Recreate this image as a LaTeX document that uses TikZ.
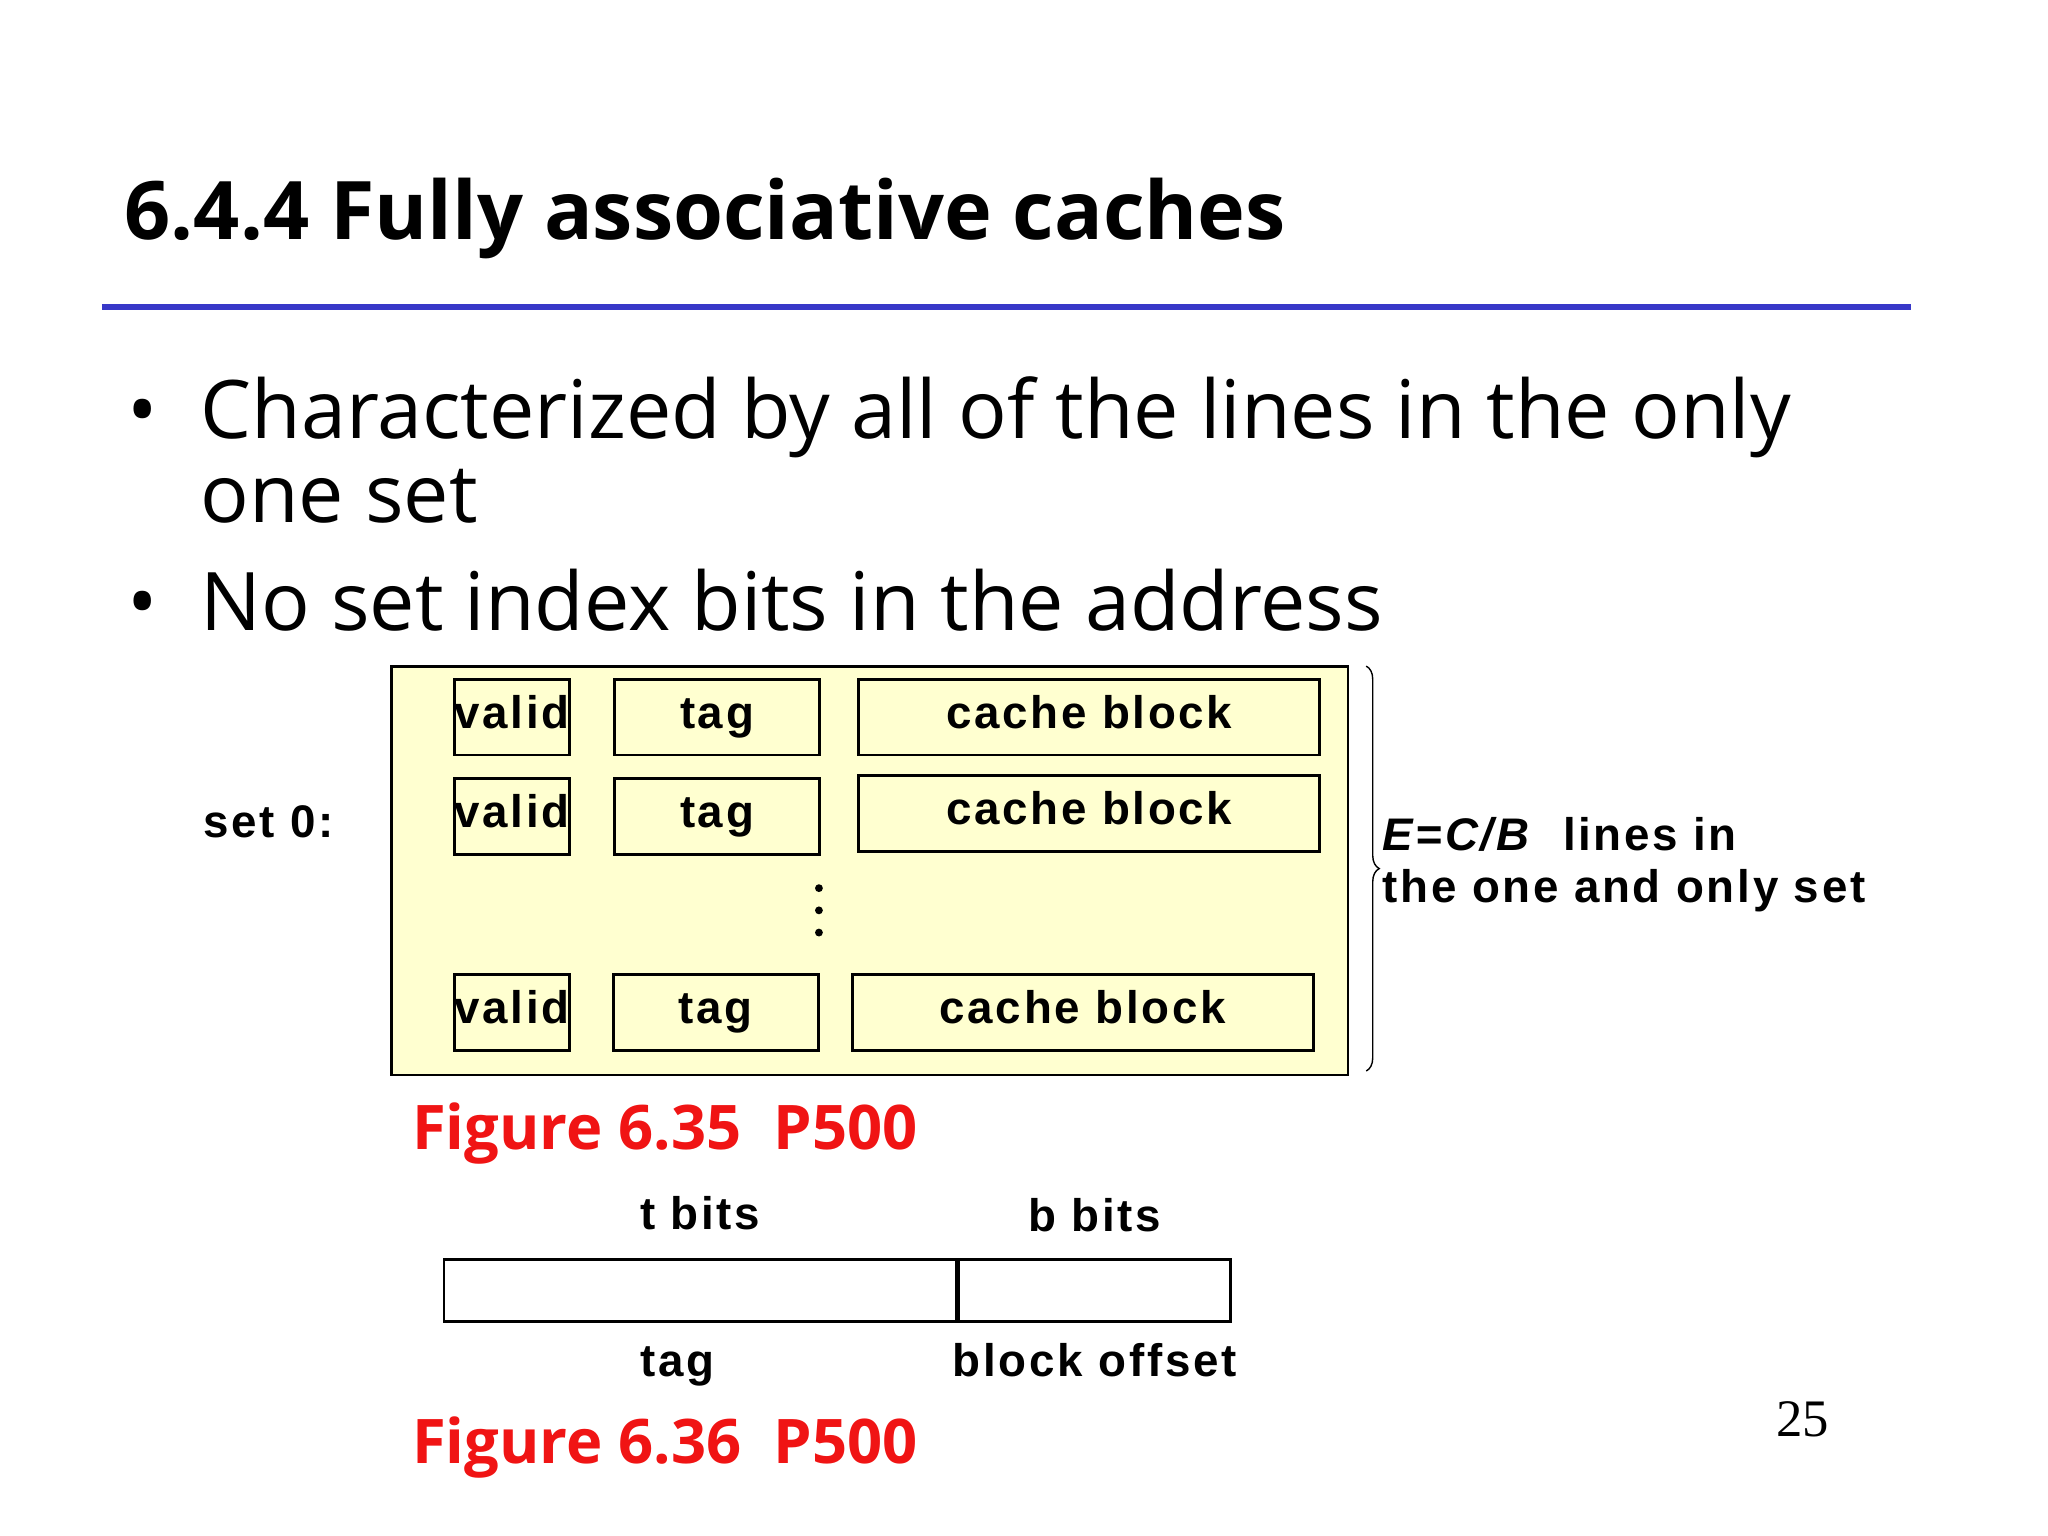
\documentclass[tikz,border=0pt]{standalone}
\usepackage{fontspec}
\setmainfont{Liberation Sans}
\newfontfamily\slidefont{Open Sans}
\newfontfamily\timesfont{Liberation Serif}
\newfontfamily\boxfont[LetterSpace=6]{Liberation Sans}
\usepackage{tikz}
\usetikzlibrary{positioning,decorations.pathreplacing}
\definecolor{slideblue}{RGB}{56,56,200}
\definecolor{boxyellow}{RGB}{255,255,208}
\definecolor{figred}{RGB}{240,20,20}
\newcommand{\px}{0.013061cm}

\begin{document}
\begin{tikzpicture}[
    x=0.013061cm, y=-0.013061cm,
    cell/.style={rectangle, draw, thick, inner sep=0pt, minimum height=58*\px, text height=1.6ex, text depth=0.4ex, font=\boxfont\fontsize{13}{15}\selectfont\bfseries},
    label/.style={inner sep=0pt, text height=1.6ex, text depth=0.4ex, font=\boxfont\fontsize{13}{15}\selectfont\bfseries},
    figlabel/.style={anchor=west, inner sep=0pt, text=figred, font=\slidefont\fontsize{17.5}{21}\selectfont\bfseries},
    bullet/.style={anchor=base west, inner sep=0pt, font=\slidefont\fontsize{23}{28}\selectfont}
]
\useasboundingbox (0,0) rectangle (1568,1176);

% title
\node[anchor=base west, inner sep=0pt, font=\slidefont\fontsize{23}{28}\selectfont\bfseries] (title) at (95,183) {6.4.4 Fully associative caches};
\draw[slideblue, line width=5*\px] (78,235) -- (1463,235);

% bullets
\node[bullet] (dot1) at (97,336) {\textbullet};
\node[bullet] (b1) at (153,336) {Characterized by all of the lines in the only};
\node[bullet] (b1b) at (153,400) {one set};
\node[bullet] (dot2) at (97,483) {\textbullet};
\node[bullet] (b2) at (153,483) {No set index bits in the address};

% the one set
\draw[thick, fill=boxyellow] (300,510) rectangle (1032,823);
\node[label, anchor=west] (set) at (155,633) {set 0:};

\node[cell, minimum width=79*\px] (v1) at (392,549) {valid};
\node[cell, minimum width=157*\px] (t1) at (549,549) {tag};
\node[cell, minimum width=353*\px] (c1) at (834,549) {cache block};
\node[cell, minimum width=79*\px] (v2) at (392,625) {valid};
\node[cell, minimum width=157*\px] (t2) at (549,625) {tag};
\node[cell, minimum width=353*\px] (c2) at (834,623) {cache block};
\node[cell, minimum width=79*\px] (v3) at (392,775) {valid};
\node[cell, minimum width=157*\px] (t3) at (548,775) {tag};
\node[cell, minimum width=353*\px] (c3) at (829,775) {cache block};

\foreach \y in {680,697,714}
    \fill (627,\y) circle (3);

\draw[decorate, decoration={brace, amplitude=10*\px}] (1046,510) -- (1046,820);
\node[label, anchor=west, align=left, text height=, text depth=] (lines) at (1058,662) {\textit{E=C/B}\ \ lines in\\the one and only set};

\node[figlabel] (fig1) at (315,868) {Figure 6.35\ \ P500};

% address
\node[cell, minimum width=392*\px, minimum height=47*\px] (tagbits) at (536,988) {};
\node[cell, minimum width=208*\px, minimum height=47*\px, right=0pt of tagbits] (offbits) {};
\node[label, above=16*\px of tagbits] (tb) {t bits};
\node[label, above=14*\px of offbits] (bb) {b bits};
\node[label, below=18*\px of tagbits, xshift=-17*\px] (tagname) {tag};
\node[label, below=18*\px of offbits] (offname) {block offset};

\node[figlabel] (fig2) at (315,1108) {Figure 6.36\ \ P500};
\node[inner sep=0pt, font=\timesfont\fontsize{15}{18}\selectfont] (page) at (1380,1087) {25};
\end{tikzpicture}
\end{document}
